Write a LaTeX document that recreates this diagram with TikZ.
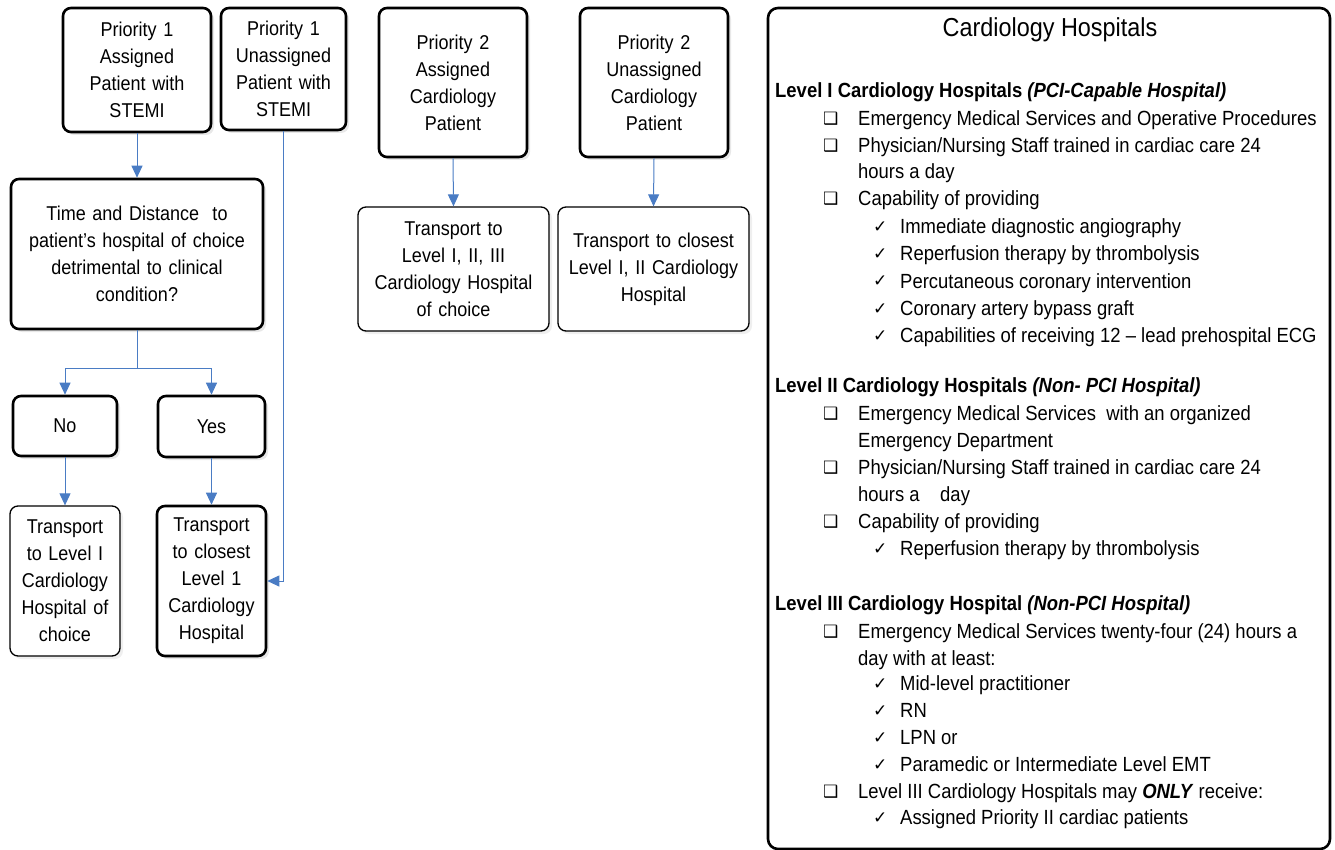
\documentclass[tikz,border=0pt]{standalone}
\usepackage{fontspec}
\setmainfont{Liberation Sans}[FakeStretch=0.9]
\newfontfamily\symfont{DejaVu Sans}
\usetikzlibrary{arrows.meta,shadows}
\definecolor{arrowblue}{HTML}{4A7CC4}
\tikzset{
  thickbox/.style={draw=black, line width=2.6pt, rounded corners=8pt, fill=white, align=center, inner sep=2pt,
    font=\fontsize{20}{27}\selectfont, drop shadow={shadow xshift=3pt, shadow yshift=-3pt, fill=black!18}},
  thinbox/.style={draw=black, line width=1.3pt, rounded corners=8pt, fill=white, align=center, inner sep=2pt,
    font=\fontsize{20}{27}\selectfont, drop shadow={shadow xshift=3pt, shadow yshift=-3pt, fill=black!12}},
  conn/.style={draw=arrowblue, line width=1pt},
  arr/.style={conn, -{Triangle[width=11pt,length=12pt]}},
  rt/.style={anchor=base west, inner sep=0pt, font=\fontsize{20.5}{24}\selectfont},
  sym/.style={anchor=base west, inner sep=0pt, font=\fontsize{17}{20}\symfont},
}
\begin{document}
\begin{tikzpicture}[x=1pt,y=-1pt]
\useasboundingbox (0,0) rectangle (1335,850);
% left flowchart
\node[thickbox, minimum width=148pt, minimum height=124pt, text width=144pt] (p1a) at (137,70) {Priority 1\\Assigned\\Patient with\\STEMI};
\node[thickbox, minimum width=125pt, minimum height=122pt, text width=121pt] (p1u) at (283.5,69) {Priority 1\\Unassigned\\Patient with\\STEMI};
\node[thickbox, minimum width=252pt, minimum height=150pt, text width=245pt] (td) at (137,254) {Time and Distance\ \ to\\patient’s hospital of choice\\detrimental to clinical\\condition?};
\node[thickbox, minimum width=104pt, minimum height=60pt] (no) at (65,426) {No};
\node[thickbox, minimum width=107pt, minimum height=61pt] (yes) at (211.5,426.5) {Yes};
\node[thinbox, minimum width=108pt, minimum height=150pt, text width=106pt] (tl1) at (65,581) {Transport\\to Level I\\Cardiology\\Hospital of\\choice};
\node[thickbox, minimum width=107pt, minimum height=150pt, text width=105pt] (tc1) at (211.5,581) {Transport\\to closest\\Level 1\\Cardiology\\Hospital};
% priority 2
\node[thickbox, minimum width=148pt, minimum height=149pt, text width=144pt] (p2a) at (453,82.5) {Priority 2\\Assigned\\Cardiology\\Patient};
\node[thickbox, minimum width=148pt, minimum height=149pt, text width=144pt] (p2u) at (654,82.5) {Priority 2\\Unassigned\\Cardiology\\Patient};
\node[thinbox, minimum width=189pt, minimum height=124pt, text width=187pt] (t123) at (453.5,269) {Transport to\\Level I, II, III\\Cardiology Hospital\\of choice};
\node[thinbox, minimum width=189pt, minimum height=124pt, text width=187pt] (t12) at (653.5,269) {Transport to closest\\Level I, II Cardiology\\Hospital};
% connectors
\draw[arr] (p1a.south) -- (td.north);
\coordinate (split) at (137,368);
\draw[conn] (td.south) -- (split);
\draw[arr] (split) -| (no.north);
\draw[arr] (split) -| (yes.north);
\draw[arr] (no.south) -- (tl1.north);
\draw[arr] (yes.south) -- (tc1.north);
\draw[arr] (p1u.south) |- (tc1.east);
\draw[arr] (p2a.south) -- (t123.north);
\draw[arr] (p2u.south) -- (t12.north);
% right panel
\draw[line width=2.6pt, rounded corners=10pt, fill=white] (768,8) rectangle (1330,849);
\node[inner sep=0pt, font=\fontsize{26}{30}\selectfont] (title) at (1050,30) {Cardiology Hospitals};
% Level I
\node[rt] (h1) at (775,98) {\textbf{Level I Cardiology Hospitals} \textbf{\textit{(PCI-Capable Hospital)}}};
\node[sym] (b11) at (823,125) {❑}; \node[rt] (t11) at (858,126) {Emergency Medical Services and Operative Procedures};
\node[sym] (b12) at (823,152) {❑}; \node[rt] (t12a) at (858,153) {Physician/Nursing Staff trained in cardiac care 24};
\node[rt] (t12b) at (858,179) {hours a day};
\node[sym] (b13) at (823,205) {❑}; \node[rt] (t13) at (858,206) {Capability of providing};
\node[sym] (c11) at (873,233) {✓}; \node[rt] (u11) at (900,234) {Immediate diagnostic angiography};
\node[sym] (c12) at (873,260) {✓}; \node[rt] (u12) at (900,261) {Reperfusion therapy by thrombolysis};
\node[sym] (c13) at (873,287) {✓}; \node[rt] (u13) at (900,288) {Percutaneous coronary intervention};
\node[sym] (c14) at (873,314) {✓}; \node[rt] (u14) at (900,315) {Coronary artery bypass graft};
\node[sym] (c15) at (873,341) {✓}; \node[rt] (u15) at (900,342) {Capabilities of receiving 12 – lead prehospital ECG};
% Level II
\node[rt] (h2) at (775,392) {\textbf{Level II Cardiology Hospitals} \textbf{\textit{(Non- PCI Hospital)}}};
\node[sym] (b21) at (823,419) {❑}; \node[rt] (t21a) at (858,420) {Emergency Medical Services\ \ with an organized};
\node[rt] (t21b) at (858,447) {Emergency Department};
\node[sym] (b22) at (823,473) {❑}; \node[rt] (t22a) at (858,474) {Physician/Nursing Staff trained in cardiac care 24};
\node[rt] (t22b) at (858,501) {hours a\ \ \ \ day};
\node[sym] (b23) at (823,527) {❑}; \node[rt] (t23) at (858,528) {Capability of providing};
\node[sym] (c21) at (873,554) {✓}; \node[rt] (u21) at (900,555) {Reperfusion therapy by thrombolysis};
% Level III
\node[rt] (h3) at (775,610) {\textbf{Level III Cardiology Hospital} \textbf{\textit{(Non-PCI Hospital)}}};
\node[sym] (b31) at (823,637) {❑}; \node[rt] (t31a) at (858,638) {Emergency Medical Services twenty-four (24) hours a};
\node[rt] (t31b) at (858,665) {day with at least:};
\node[sym] (c31) at (873,689) {✓}; \node[rt] (u31) at (900,690) {Mid-level practitioner};
\node[sym] (c32) at (873,716) {✓}; \node[rt] (u32) at (900,717) {RN};
\node[sym] (c33) at (873,743) {✓}; \node[rt] (u33) at (900,744) {LPN or};
\node[sym] (c34) at (873,770) {✓}; \node[rt] (u34) at (900,771) {Paramedic or Intermediate Level EMT};
\node[sym] (b32) at (823,797) {❑}; \node[rt] (t32) at (858,798) {Level III Cardiology Hospitals may \textbf{\textit{ONLY}} receive:};
\node[sym] (c35) at (873,823) {✓}; \node[rt] (u35) at (900,824) {Assigned Priority II cardiac patients};
\end{tikzpicture}
\end{document}
